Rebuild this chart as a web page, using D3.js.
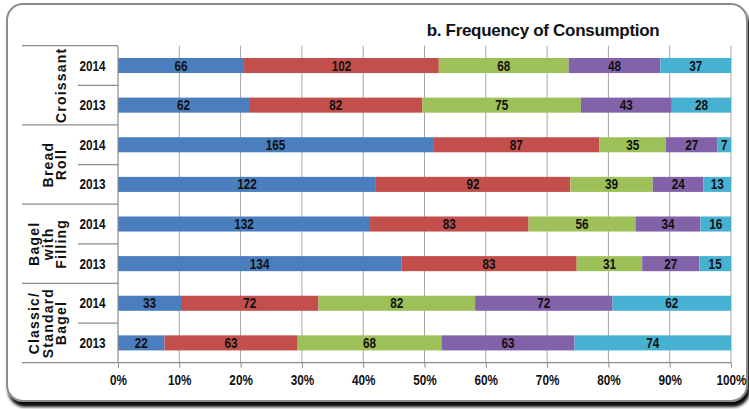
<!DOCTYPE html>
<html>
<head>
<meta charset="utf-8">
<script src="https://cdn.jsdelivr.net/npm/d3@7"></script>
<style>
  html, body { margin: 0; padding: 0; background: #ffffff; }
  svg { display: block; }
  text { font-family: "Liberation Sans", Arial, sans-serif; }
</style>
</head>
<body>
<svg id="chart" width="749" height="409"></svg>
<script>
// Products (top to bottom) and the two survey years under each
const groups = ["Croissant", "Bread Roll", "Bagel with Filling", "Classic/ Standard Bagel"];
const groupLines = [["Croissant"], ["Bread", "Roll"], ["Bagel", "with", "Filling"], ["Classic/", "Standard", "Bagel"]];
const years = ["2014", "2013"];

// Respondent counts per frequency class, one array per class (row order: group × year)
const freq1 = [66, 62, 165, 122, 132, 134, 33, 22];
const freq2 = [102, 82, 87, 92, 83, 83, 72, 63];
const freq3 = [68, 75, 35, 39, 56, 31, 82, 68];
const freq4 = [48, 43, 27, 24, 34, 27, 72, 63];
const freq5 = [37, 28, 7, 13, 16, 15, 62, 74];

const seriesColors = ["#4a7ebf", "#c24f4c", "#9dc158", "#8262a8", "#47b1d2"];
const tickValues = [0, 0.1, 0.2, 0.3, 0.4, 0.5, 0.6, 0.7, 0.8, 0.9, 1.0];

const series = [freq1, freq2, freq3, freq4, freq5];
const rows = [];
groups.forEach((g, gi) => years.forEach((yr, yi) => {
  const i = gi * 2 + yi;
  const row = { key: g + "|" + yr, group: g, year: yr };
  series.forEach((s, si) => row["s" + si] = s[i]);
  rows.push(row);
}));

// Narrow-looking bold text: horizontally compressed glyphs
const NARROW = 0.84;
function narrowText(sel, cx, cy) {
  return sel.attr("x", 0).attr("y", 0)
    .attr("transform", (d, i) => `translate(${cx(d, i)},${cy(d, i)}) scale(${NARROW},1)`);
}

const svg = d3.select("#chart");

// Card background with a dark drop shadow
const defs = svg.append("defs");
const f = defs.append("filter").attr("id", "shadow").attr("x", "-5%").attr("y", "-5%").attr("width", "115%").attr("height", "120%");
f.append("feDropShadow").attr("dx", 2).attr("dy", 5).attr("stdDeviation", 1.5).attr("flood-color", "#000").attr("flood-opacity", 0.95);

svg.append("rect")
  .attr("x", 7).attr("y", 4).attr("width", 740).attr("height", 397)
  .attr("rx", 16).attr("ry", 16)
  .attr("fill", "#ffffff").attr("stroke", "#8c8c8c").attr("stroke-width", 2)
  .attr("filter", "url(#shadow)");

const plotLeft = 118, plotRight = 731, plotTop = 45.7, plotBottom = 362.7;

const x = d3.scaleLinear().domain([0, 1]).range([plotLeft, plotRight]);
const y = d3.scaleBand().domain(rows.map(r => r.key)).range([plotTop, plotBottom]).paddingInner(0.62).paddingOuter(0.31);

// Vertical gridlines
svg.append("g").selectAll("line").data(tickValues.slice(1)).join("line")
  .attr("x1", d => x(d)).attr("x2", d => x(d))
  .attr("y1", plotTop).attr("y2", plotBottom)
  .attr("stroke", "#a6a6a6").attr("stroke-width", 1);

// Stacked 100% bars
const keys = series.map((_, i) => "s" + i);
const stacked = d3.stack().keys(keys).offset(d3.stackOffsetExpand)(rows);

const layers = svg.append("g").selectAll("g").data(stacked).join("g")
  .attr("fill", (d, i) => seriesColors[i]);

layers.selectAll("rect").data(d => d).join("rect")
  .attr("x", d => x(d[0]))
  .attr("width", d => x(d[1]) - x(d[0]))
  .attr("y", d => y(d.data.key))
  .attr("height", y.bandwidth());

// Value labels centred in each segment
stacked.forEach((layer, li) => {
  const t = svg.append("g").selectAll("text").data(layer).join("text")
    .attr("dy", "0.36em")
    .attr("text-anchor", "middle")
    .attr("font-size", 14).attr("font-weight", "bold")
    .attr("fill", "#111")
    .text(d => d.data[keys[li]]);
  narrowText(t, d => (x(d[0]) + x(d[1])) / 2, d => y(d.data.key) + y.bandwidth() / 2);
});

// Bottom axis
const xAxis = d3.axisBottom(x).tickValues(tickValues).tickSize(5).tickSizeOuter(0).tickFormat(d3.format(".0%"));
const ax = svg.append("g").attr("transform", `translate(0,${plotBottom})`).call(xAxis);
ax.select(".domain").remove();
ax.selectAll(".tick line").attr("stroke", "#8c8c8c");
ax.selectAll(".tick text")
  .attr("x", 0).attr("y", 0).attr("dy", "0.71em")
  .attr("transform", `translate(0,12) scale(${NARROW},1)`)
  .attr("font-size", 14).attr("font-weight", "bold").attr("fill", "#111")
  .style("font-family", '"Liberation Sans", Arial, sans-serif');

const axisColor = "#8c8c8c";
// Horizontal axis line, extended under the category labels
svg.append("line").attr("x1", 22).attr("x2", plotRight).attr("y1", plotBottom).attr("y2", plotBottom)
  .attr("stroke", axisColor).attr("stroke-width", 1.2);
// Vertical axis line
svg.append("line").attr("x1", plotLeft).attr("x2", plotLeft).attr("y1", plotTop).attr("y2", plotBottom)
  .attr("stroke", axisColor).attr("stroke-width", 1.2);

// Multi-level category separators
const bandStep = (plotBottom - plotTop) / rows.length;
groups.forEach((g, gi) => {
  const gy = plotTop + gi * 2 * bandStep;
  svg.append("line").attr("x1", 22).attr("x2", plotLeft).attr("y1", gy).attr("y2", gy)
    .attr("stroke", axisColor).attr("stroke-width", 1.2);
  const my = gy + bandStep;
  svg.append("line").attr("x1", 78).attr("x2", plotLeft).attr("y1", my).attr("y2", my)
    .attr("stroke", axisColor).attr("stroke-width", 1.2);
});

// Year labels
const yl = svg.append("g").selectAll("text").data(rows).join("text")
  .attr("dy", "0.36em").attr("text-anchor", "middle")
  .attr("font-size", 14).attr("font-weight", "bold").attr("fill", "#111")
  .text(d => d.year);
narrowText(yl, () => 92.5, d => y(d.key) + y.bandwidth() / 2);

// Rotated product labels; the last line sits next to the year column
groupLines.forEach((lines, gi) => {
  const cy = plotTop + (gi * 2 + 1) * bandStep;
  const lh = 13.5;
  const n = lines.length;
  lines.forEach((ln, li) => {
    const bx = 66 - (n - 1 - li) * lh;
    svg.append("text")
      .attr("transform", `translate(${bx},${cy}) rotate(-90)`)
      .attr("text-anchor", "middle")
      .attr("font-size", 14).attr("font-weight", "bold").attr("fill", "#111")
      .attr("letter-spacing", 1.2)
      .text(ln);
  });
});

// Title
svg.append("text")
  .attr("x", 543).attr("y", 36)
  .attr("text-anchor", "middle")
  .attr("font-size", 17).attr("font-weight", "bold").attr("fill", "#111")
  .attr("letter-spacing", -0.3)
  .text("b. Frequency of Consumption");
</script>
</body>
</html>
